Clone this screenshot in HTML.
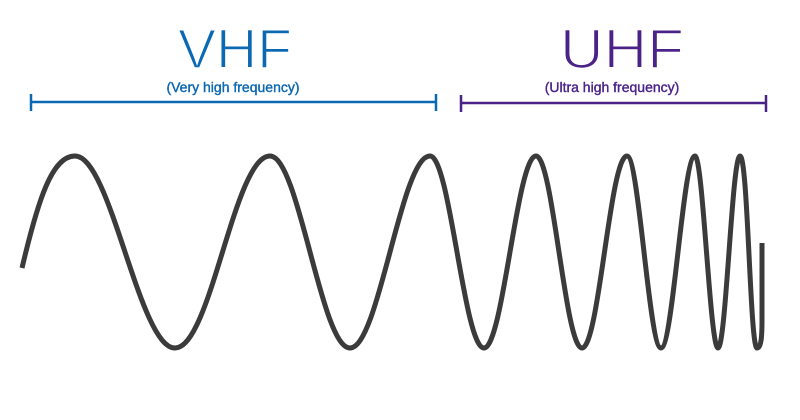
<!DOCTYPE html>
<html><head><style>html,body{margin:0;padding:0;background:#fff;width:800px;height:420px;overflow:hidden}</style></head>
<body>
<svg width="800" height="420" viewBox="0 0 800 420" xmlns="http://www.w3.org/2000/svg">
<text x="235" y="68" text-anchor="middle" font-family="Liberation Sans, sans-serif" font-size="56" fill="#0b68b2" stroke="#fff" stroke-width="1.6" textLength="114" lengthAdjust="spacingAndGlyphs">VHF</text>
<text x="233" y="92" text-anchor="middle" font-family="Liberation Sans, sans-serif" font-size="14" fill="#0b68b2" stroke="#0b68b2" stroke-width="0.4">(Very high frequency)</text>
<text x="622" y="68" text-anchor="middle" font-family="Liberation Sans, sans-serif" font-size="56" fill="#4b2388" stroke="#fff" stroke-width="1.6" textLength="124" lengthAdjust="spacingAndGlyphs">UHF</text>
<text x="612" y="92" text-anchor="middle" font-family="Liberation Sans, sans-serif" font-size="14" fill="#4b2388" stroke="#4b2388" stroke-width="0.4">(Ultra high frequency)</text>
<g stroke="#0b68b2" stroke-width="2.5" fill="none">
<line x1="31" y1="102" x2="436" y2="102"/><line x1="31" y1="94" x2="31" y2="111"/><line x1="436" y1="94" x2="436" y2="111"/>
</g>
<g stroke="#4b2388" stroke-width="2.5" fill="none">
<line x1="461" y1="103" x2="766" y2="103"/><line x1="461" y1="95" x2="461" y2="112"/><line x1="766" y1="95" x2="766" y2="112"/>
</g>
<path fill="none" stroke="#3b3b3b" stroke-width="5" stroke-linecap="butt" d="
M22,268 C38,200 52,156 75,156
C111,156 139,348 175,348
C211,348 234,156 270,156
C299,156 321,348 350,348
C379,348 401,156 430,156
C450,156 464,348 484,348
C503,348 517,156 536,156
C553,156 565,348 582,348
C599,348 610,156 627,156
C639,156 649,348 661,348
C673,348 683,156 695,156
C703,156 710,348 718,348
C726,348 732,156 740,156
C748,156 750,348 757,348
C761,348 762,338 762,320 L762,243"/>
</svg>
</body></html>
